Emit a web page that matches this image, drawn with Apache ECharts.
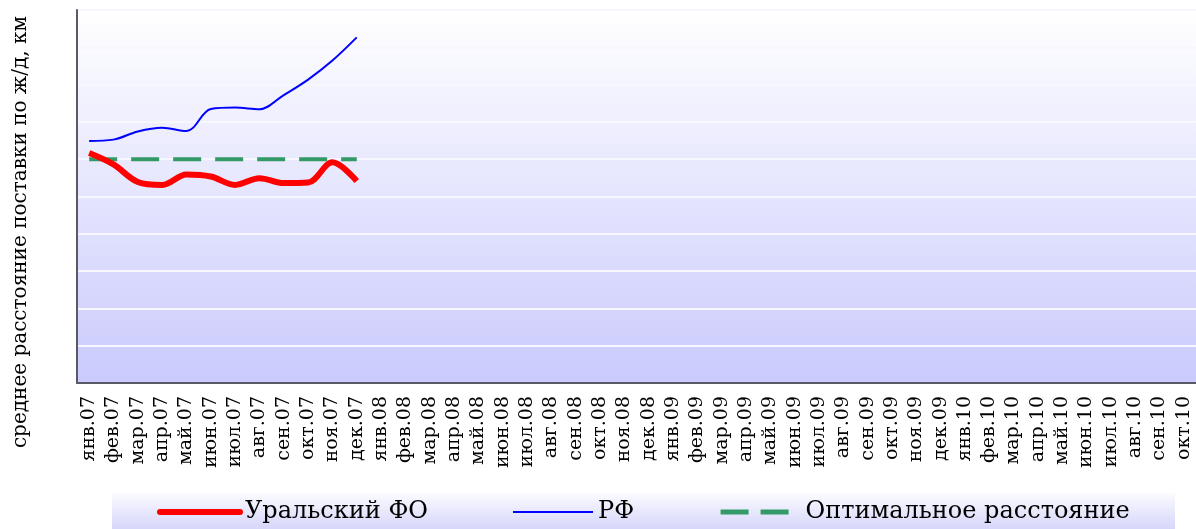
<!DOCTYPE html>
<html>
<head>
<meta charset="utf-8">
<script src="https://cdn.jsdelivr.net/npm/echarts@6/dist/echarts.min.js"></script>
<style>
html,body{margin:0;padding:0;background:#ffffff;}
#chart{width:1196px;height:529px;}
</style>
</head>
<body>
<div id="chart"></div>
<script>
const categories = [
  'янв.07','фев.07','мар.07','апр.07','май.07','июн.07','июл.07','авг.07','сен.07','окт.07','ноя.07','дек.07',
  'янв.08','фев.08','мар.08','апр.08','май.08','июн.08','июл.08','авг.08','сен.08','окт.08','ноя.08','дек.08',
  'янв.09','фев.09','мар.09','апр.09','май.09','июн.09','июл.09','авг.09','сен.09','окт.09','ноя.09','дек.09',
  'янв.10','фев.10','мар.10','апр.10','май.10','июн.10','июл.10','авг.10','сен.10','окт.10'
];
const uralValues = [1233, 1172, 1078, 1062, 1118, 1107, 1062, 1098, 1072, 1075, 1183, 1083];
const rfValues = [1298, 1305, 1349, 1369, 1351, 1469, 1477, 1468, 1544, 1627, 1729, 1853];
const optimalValues = [1200, 1200, 1200, 1200, 1200, 1200, 1200, 1200, 1200, 1200, 1200, 1200];
const seriesNames = ['Уральский ФО', 'РФ', 'Оптимальное расстояние'];
const yAxisTitle = 'среднее расстояние поставки по ж/д, км';

const chart = echarts.init(document.getElementById('chart'), null, {renderer: 'canvas'});
const serif = 'DejaVu Serif';
const hidden = {color: 'rgba(0,0,0,0)', opacity: 0, borderWidth: 0};
chart.setOption({
  animation: false,
  backgroundColor: '#ffffff',
  grid: {
    left: 77, right: 0, top: 10, bottom: 146,
    show: true,
    borderWidth: 0,
    backgroundColor: {type: 'linear', x: 0, y: 0, x2: 0, y2: 1,
      colorStops: [{offset: 0, color: '#ffffff'}, {offset: 1, color: '#cacafd'}]}
  },
  graphic: [
    {type: 'rect', z: -1, shape: {x: 112, y: 493, width: 1063, height: 40},
     style: {fill: {type: 'linear', x: 0, y: 0, x2: 0, y2: 1,
       colorStops: [{offset: 0, color: '#fbfbff'}, {offset: 1, color: '#d2d2fa'}]}}},
    {type: 'text', x: 21, y: 232, rotation: Math.PI / 2,
     style: {text: yAxisTitle, font: '20px "DejaVu Serif"', fill: '#000000',
       textAlign: 'center', textVerticalAlign: 'middle'}}
  ],
  legend: {
    left: 157, top: 500, padding: 0,
    itemWidth: 80, itemHeight: 14, itemGap: 84,
    textStyle: {fontFamily: serif, fontSize: 24, color: '#000000'},
    itemStyle: hidden,
    data: [
      {name: seriesNames[0], lineStyle: {width: 6, cap: 'round'}, itemStyle: hidden},
      {name: seriesNames[1], lineStyle: {width: 2}, itemStyle: hidden},
      {name: seriesNames[2], lineStyle: {width: 5, type: [28, 12]}, itemStyle: hidden}
    ]
  },
  xAxis: {
    type: 'category',
    data: categories,
    boundaryGap: true,
    axisLine: {lineStyle: {color: '#5a5a66', width: 2}},
    axisTick: {show: false},
    axisLabel: {rotate: 90, interval: 0, margin: 13, fontFamily: serif, fontSize: 19, color: '#000000'},
    splitLine: {show: false}
  },
  yAxis: {
    type: 'value',
    min: 0, max: 2000, interval: 200,
    axisLine: {show: true, lineStyle: {color: '#5a5a66', width: 2}},
    axisTick: {show: false},
    axisLabel: {show: false},
    splitLine: {lineStyle: {color: '#f7f7ff', width: 2}}
  },
  series: [
    {name: seriesNames[0], type: 'line', data: uralValues, symbol: 'none', smooth: 0.35, z: 4,
     lineStyle: {color: '#ff0000', width: 6}, itemStyle: {color: '#ff0000'}},
    {name: seriesNames[1], type: 'line', data: rfValues, symbol: 'none', smooth: 0.35, z: 3,
     lineStyle: {color: '#0000ff', width: 2}, itemStyle: {color: '#0000ff'}},
    {name: seriesNames[2], type: 'line', data: optimalValues, symbol: 'none', z: 2,
     lineStyle: {color: '#339966', width: 4, type: [28, 14]}, itemStyle: {color: '#339966'}}
  ]
});
</script>
</body>
</html>
